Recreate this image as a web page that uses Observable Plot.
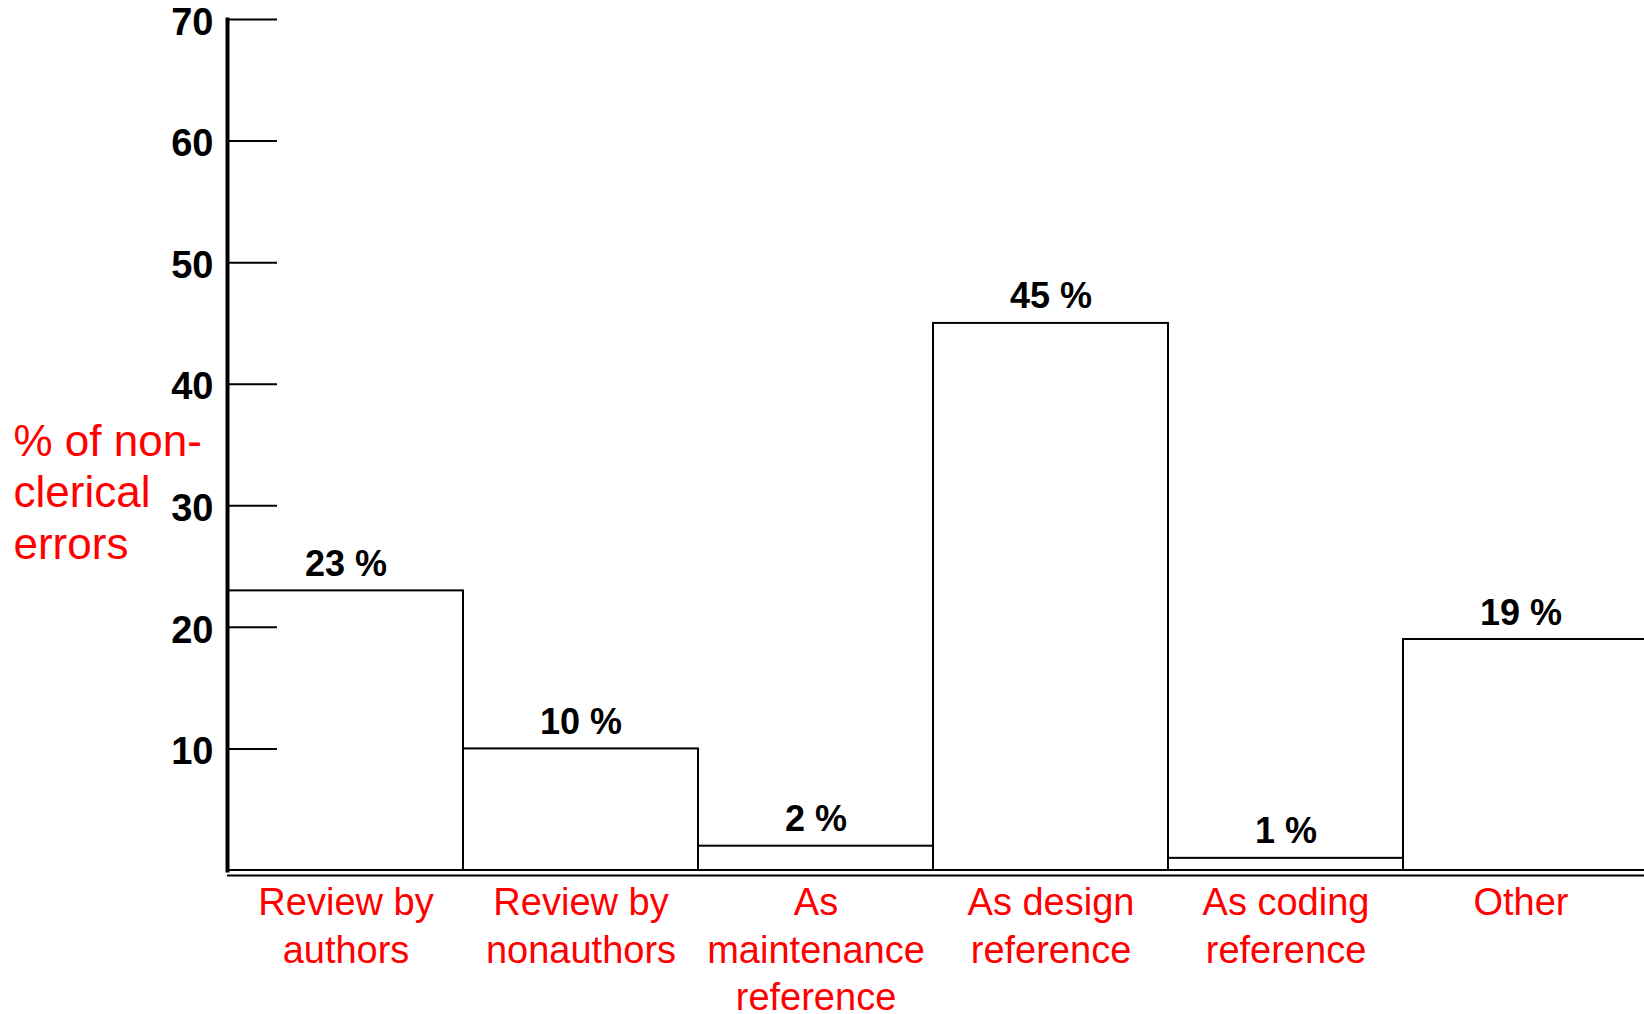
<!DOCTYPE html>
<html>
<head>
<meta charset="utf-8">
<script src="https://cdn.jsdelivr.net/npm/d3@7"></script>
<script src="https://cdn.jsdelivr.net/npm/@observablehq/plot@0.6"></script>
<style>
  html, body { margin: 0; padding: 0; background: white; overflow: hidden; }
</style>
</head>
<body>
<div id="chart"></div>
<script>
const categories = [
  "Review by\nauthors",
  "Review by\nnonauthors",
  "As\nmaintenance\nreference",
  "As design\nreference",
  "As coding\nreference",
  "Other"
];
const values = [23, 10, 2, 45, 1, 19];
const valueLabels = ["23 %", "10 %", "2 %", "45 %", "1 %", "19 %"];
const yTicks = [10, 20, 30, 40, 50, 60, 70];
const yTitle = "% of non-\nclerical\nerrors";

const data = categories.map((c, i) => ({cat: c, value: values[i], label: valueLabels[i]}));
const lastCat = categories[categories.length - 1];

const W = 1644, H = 1014;
const mL = 227, mR = 6, mT = 19, mB = 144;
const frameW = W - mL - mR;

const barStyle = {x: "cat", y: "value", fill: "white", stroke: "black", strokeWidth: 2};

const chart = Plot.plot({
  width: W,
  height: H,
  marginLeft: mL,
  marginRight: mR,
  marginTop: mT,
  marginBottom: mB,
  style: {fontFamily: "'Liberation Sans', Arial, sans-serif", background: "white", color: "black"},
  x: {domain: categories, padding: 0, label: null},
  y: {domain: [0, 70], label: null},
  marks: [
    Plot.barY(data.filter(d => d.cat !== lastCat), barStyle),
    Plot.barY(data.filter(d => d.cat === lastCat), {...barStyle, insetRight: -20}),
    Plot.ruleY([0], {dy: 5, stroke: "black", strokeWidth: 2, insetRight: -10}),
    Plot.tickY(yTicks, {y: d => d, stroke: "black", strokeWidth: 2, insetRight: frameW - 50}),
    Plot.frame({anchor: "left", stroke: "black", strokeWidth: 4}),
    Plot.axisY(yTicks, {tickSize: 0, tickPadding: 14, dy: 3, fontSize: 38, fontWeight: "bold", fill: "black", label: null}),
    Plot.axisX({tickSize: 0, tickPadding: 11, fontSize: 38, fill: "#ff0000", lineHeight: 1.25, label: null}),
    Plot.text(data, {x: "cat", y: "value", text: "label", lineAnchor: "bottom", dy: -15, fontSize: 36, fontWeight: "bold", fill: "black"}),
    Plot.text([yTitle], {frameAnchor: "left", dx: -214, dy: 46, textAnchor: "start", lineAnchor: "middle", fontSize: 44, lineHeight: 1.17, fill: "#ff0000"})
  ]
});
document.getElementById("chart").appendChild(chart);
</script>
</body>
</html>
